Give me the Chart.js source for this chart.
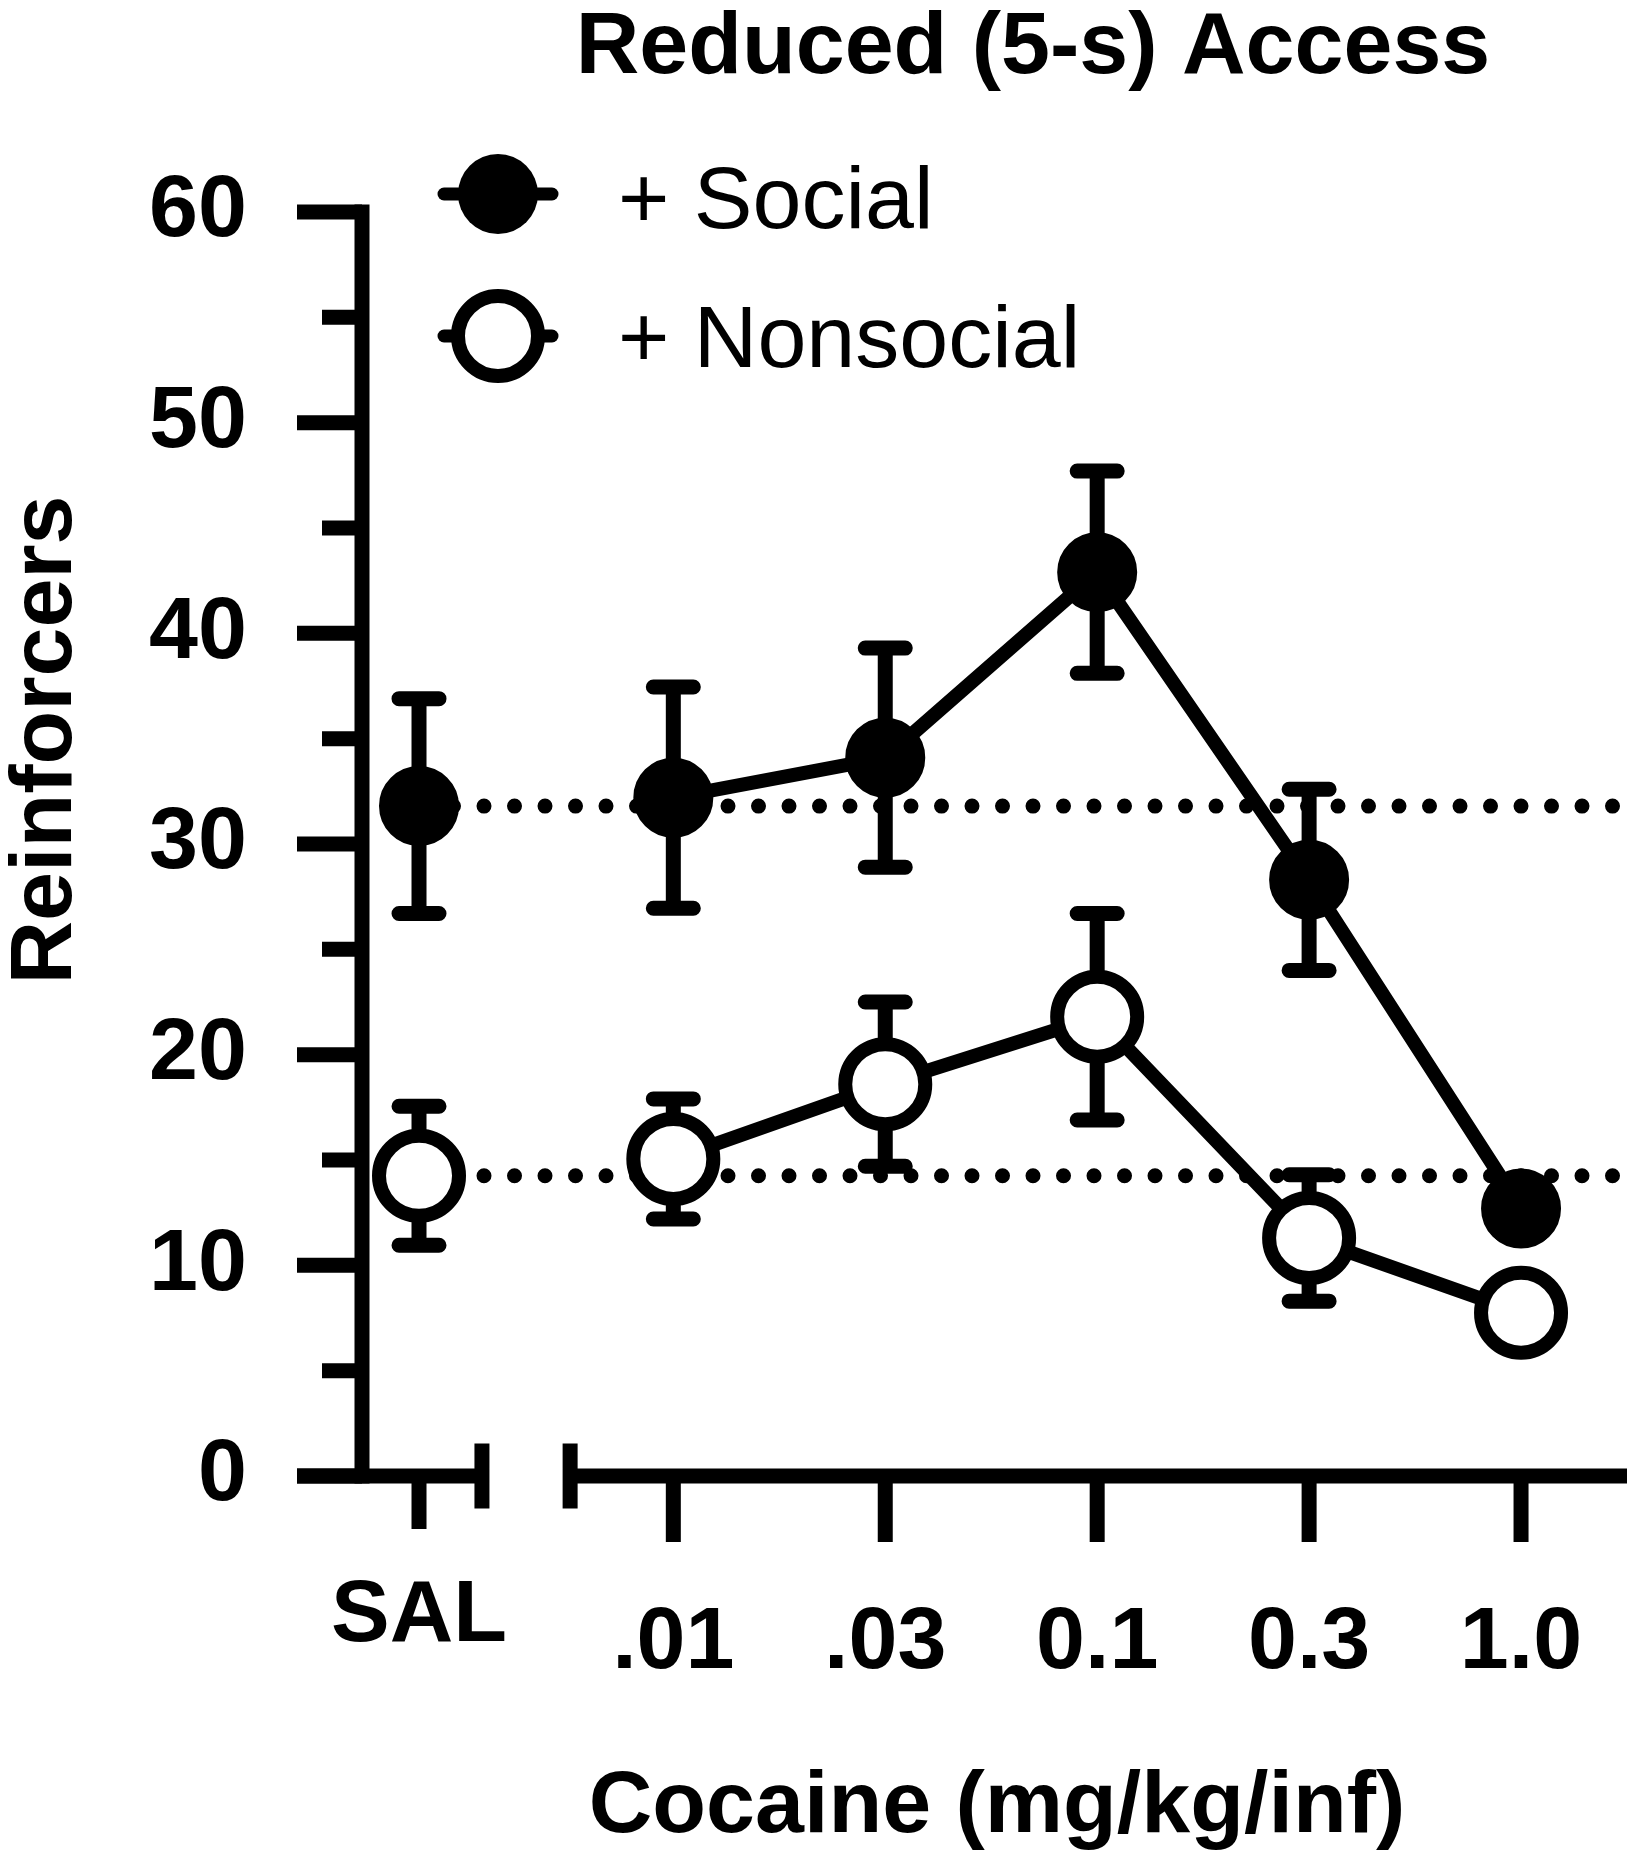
<!DOCTYPE html>
<html>
<head>
<meta charset="utf-8">
<style>
  html, body { margin: 0; padding: 0; background: #ffffff; }
  #wrap { width: 1633px; height: 1856px; }
  canvas { display: block; }
</style>
<script src="https://cdn.jsdelivr.net/npm/chart.js@4.4.1/dist/chart.umd.min.js"></script>
</head>
<body>
<div id="wrap"><canvas id="c" width="1633" height="1856"></canvas></div>
<script>
// ---------------- data ----------------
const categories     = ['SAL', '.01', '.03', '0.1', '0.3', '1.0'];
const socialMean     = [31.8, 32.2, 34.1, 42.9, 28.3, 12.7];
const socialSEM      = [5.1, 5.25, 5.2, 4.8, 4.3, 1.2];
const nonsocialMean  = [14.25, 15.05, 18.6, 21.8, 11.3, 7.75];
const nonsocialSEM   = [3.3, 2.85, 3.9, 4.9, 3.0, 1.5];
const yTicks         = [0, 10, 20, 30, 40, 50, 60];
const seriesLabels   = ['+ Social', '+ Nonsocial'];
const titleText      = 'Reduced (5-s) Access';
const xTitleText     = 'Cocaine (mg/kg/inf)';
const yTitleText     = 'Reinforcers';

// ---------------- layout constants ----------------
const FONT = '"Liberation Sans", Arial, Helvetica, sans-serif';
const SAL_GAP = 0.2;                  // extra gap between SAL and the dose range
const pos = categories.map((c, i) => (i === 0 ? 0 : i + SAL_GAP));
const X_MIN = -0.269, X_MAX = 5.70;
const BREAK_L = 0.297, BREAK_R = 0.713;
const REF_END = pos[pos.length - 1] + 0.44;

const pts = (arr) => arr.map((v, i) => ({ x: pos[i], y: v }));
const refLine = (v) => [{ x: pos[0], y: v }, { x: REF_END, y: v }];

const hideFirstSeg = { borderColor: ctx => (ctx.p0DataIndex === 0 ? 'rgba(0,0,0,0)' : undefined) };

const customPlugin = {
  id: 'customDraw',
  beforeDatasetsDraw(chart) {
    const { ctx, scales: { x, y } } = chart;
    ctx.save();
    ctx.strokeStyle = '#000';
    // ----- axes -----
    const axX = x.getPixelForValue(X_MIN);
    const y0 = y.getPixelForValue(0);
    const yTop = y.getPixelForValue(yTicks[yTicks.length - 1]);
    ctx.lineWidth = 15;
    ctx.lineCap = 'butt';
    ctx.beginPath();
    ctx.moveTo(axX, yTop - 7.5);
    ctx.lineTo(axX, y0 + 7.5);
    ctx.stroke();
    // major ticks
    ctx.beginPath();
    yTicks.forEach(v => {
      const py = y.getPixelForValue(v);
      ctx.moveTo(axX - 65, py); ctx.lineTo(axX, py);
    });
    // minor ticks
    for (let i = 0; i < yTicks.length - 1; i++) {
      const py = y.getPixelForValue((yTicks[i] + yTicks[i + 1]) / 2);
      ctx.moveTo(axX - 40, py); ctx.lineTo(axX, py);
    }
    ctx.stroke();
    // x axis (broken)
    const bl = x.getPixelForValue(BREAK_L), br = x.getPixelForValue(BREAK_R);
    ctx.beginPath();
    ctx.moveTo(axX - 65, y0); ctx.lineTo(bl + 7.5, y0);
    ctx.moveTo(br - 7.5, y0); ctx.lineTo(chart.chartArea.right, y0);
    ctx.moveTo(bl, y0 - 32.5); ctx.lineTo(bl, y0 + 32.5);
    ctx.moveTo(br, y0 - 32.5); ctx.lineTo(br, y0 + 32.5);
    // x ticks
    pos.forEach((p, i) => {
      const px = x.getPixelForValue(p);
      ctx.moveTo(px, y0); ctx.lineTo(px, y0 + (i === 0 ? 53 : 66));
    });
    ctx.stroke();

    // ----- error bars -----
    [[socialMean, socialSEM], [nonsocialMean, nonsocialSEM]].forEach(([m, s]) => {
      m.forEach((v, i) => {
        const px = x.getPixelForValue(pos[i]);
        const top = y.getPixelForValue(v + s[i]);
        const bot = y.getPixelForValue(v - s[i]);
        ctx.lineWidth = 15;
        ctx.lineCap = 'butt';
        ctx.beginPath(); ctx.moveTo(px, top); ctx.lineTo(px, bot); ctx.stroke();
        ctx.lineCap = 'round';
        ctx.beginPath();
        ctx.moveTo(px - 20, top); ctx.lineTo(px + 20, top);
        ctx.moveTo(px - 20, bot); ctx.lineTo(px + 20, bot);
        ctx.stroke();
      });
    });
    ctx.restore();
  },
  afterDraw(chart) {
    const { ctx, scales: { x } } = chart;
    ctx.save();
    ctx.fillStyle = '#000';
    // x tick labels
    ctx.font = 'bold 88px ' + FONT;
    ctx.textAlign = 'center';
    ctx.textBaseline = 'alphabetic';
    categories.forEach((c, i) => {
      ctx.fillText(c, x.getPixelForValue(pos[i]), i === 0 ? 1641 : 1668);
    });
    // x title
    ctx.fillText(xTitleText, 997, 1832);
    // title
    ctx.fillText(titleText, 1033, 73);
    // y title
    ctx.save();
    ctx.translate(71, 740);
    ctx.rotate(-Math.PI / 2);
    ctx.fillText(yTitleText, 0, 0);
    ctx.restore();

    // legend
    const legY = [194, 336], legX = 498;
    ctx.strokeStyle = '#000';
    legY.forEach((ly, k) => {
      ctx.lineWidth = 13; ctx.lineCap = 'round';
      ctx.beginPath(); ctx.moveTo(legX - 54, ly); ctx.lineTo(legX + 54, ly); ctx.stroke();
      ctx.beginPath();
      ctx.arc(legX, ly, 40, 0, Math.PI * 2);
      if (k === 0) {
        ctx.fillStyle = '#000'; ctx.fill();
      } else {
        ctx.fillStyle = '#fff'; ctx.fill();
        ctx.lineWidth = 14; ctx.stroke();
      }
    });
    ctx.fillStyle = '#000';
    ctx.font = '88px ' + FONT;
    ctx.textAlign = 'left';
    ctx.fillText(seriesLabels[0], 618, 228);
    ctx.fillText(seriesLabels[1], 618, 367);
    ctx.restore();
  }
};

new Chart(document.getElementById('c'), {
  type: 'scatter',
  data: {
    datasets: [
      {
        label: 'social SAL reference', data: refLine(socialMean[0]), showLine: true,
        borderColor: '#000', borderWidth: 15, borderDash: [0, 30.5], borderDashOffset: 26.5,
        borderCapStyle: 'round', pointRadius: 0, order: 10
      },
      {
        label: 'nonsocial SAL reference', data: refLine(nonsocialMean[0]), showLine: true,
        borderColor: '#000', borderWidth: 15, borderDash: [0, 30.5], borderDashOffset: 26.5,
        borderCapStyle: 'round', pointRadius: 0, order: 10
      },
      {
        label: seriesLabels[0], data: pts(socialMean), showLine: true,
        borderColor: '#000', borderWidth: 14, segment: hideFirstSeg,
        pointRadius: 33, pointBorderWidth: 14, pointBackgroundColor: '#000', pointBorderColor: '#000',
        order: 2
      },
      {
        label: seriesLabels[1], data: pts(nonsocialMean), showLine: true,
        borderColor: '#000', borderWidth: 14, segment: hideFirstSeg,
        pointRadius: 40, pointBorderWidth: 14, pointBackgroundColor: '#fff', pointBorderColor: '#000',
        order: 1
      }
    ]
  },
  options: {
    responsive: false,
    devicePixelRatio: 1,
    animation: false,
    events: [],
    layout: { autoPadding: false, padding: { top: 212, right: 6, bottom: 380, left: 0 } },
    plugins: { legend: { display: false }, tooltip: { enabled: false }, title: { display: false } },
    scales: {
      x: { type: 'linear', display: false, min: X_MIN, max: X_MAX },
      y: {
        type: 'linear', position: 'left', min: 0, max: 60,
        afterBuildTicks: s => { s.ticks = yTicks.map(v => ({ value: v })); },
        afterFit: s => { s.width = 362; },
        ticks: { font: { family: FONT, size: 88, weight: 'bold' }, color: '#000', padding: 115 },
        grid: { display: false, drawTicks: false },
        border: { display: false }
      }
    }
  },
  plugins: [customPlugin]
});
</script>
</body>
</html>
